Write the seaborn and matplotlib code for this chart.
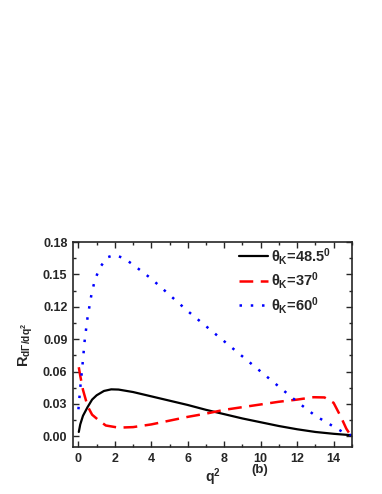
import matplotlib
matplotlib.use("Agg")
import matplotlib.pyplot as plt
import seaborn as sns
import pandas as pd
from matplotlib.ticker import MultipleLocator, FormatStrFormatter

sns.set_style("ticks")
plt.rcParams['font.family'] = ['Liberation Sans', 'DejaVu Sans']
plt.rcParams['font.weight'] = 'bold'
plt.rcParams['mathtext.fontset'] = 'custom'
plt.rcParams['mathtext.rm'] = 'Liberation Sans:bold'
plt.rcParams['mathtext.it'] = 'Liberation Sans:bold'
plt.rcParams['mathtext.bf'] = 'Liberation Sans:bold'

# theta_K = 48.5
q2_a = [0.02, 0.1, 0.25, 0.5, 0.75, 1.0, 1.4, 1.8, 2.2, 3.0, 4.0, 5.0, 6.0, 7.0,
        8.0, 9.0, 10.0, 11.0, 12.0, 13.0, 14.0, 14.6, 15.0]
r_a = [0.004, 0.011, 0.019, 0.027, 0.034, 0.038, 0.042, 0.0435, 0.0433, 0.041,
       0.037, 0.033, 0.029, 0.0245, 0.0205, 0.0165, 0.013, 0.0095, 0.0065, 0.004,
       0.0023, 0.0015, 0.001]

# theta_K = 37
q2_b = [0.02, 0.1, 0.25, 0.5, 0.75, 1.1, 1.5, 2.2, 3.0, 4.0, 5.0, 6.0, 7.0, 8.0,
        9.0, 10.0, 11.0, 12.0, 12.9, 13.5, 14.0, 14.4, 14.7, 14.95]
r_b = [0.064, 0.056, 0.043, 0.028, 0.020, 0.015, 0.010, 0.008, 0.0085, 0.011,
       0.0145, 0.018, 0.021, 0.0245, 0.027, 0.0295, 0.032, 0.034, 0.0362, 0.036,
       0.031, 0.018, 0.007, 0.0005]

# theta_K = 60
q2_c = [0.0, 0.1, 0.2, 0.35, 0.5, 0.7, 0.9, 1.2, 1.6, 2.0, 2.5, 3.0, 4.0, 5.0,
        6.0, 7.0, 8.0, 9.0, 10.0, 11.0, 12.0, 13.0, 14.0, 14.5, 14.95]
r_c = [0.025, 0.045, 0.062, 0.09, 0.11, 0.13, 0.145, 0.157, 0.166, 0.168, 0.165,
       0.159, 0.146, 0.131, 0.116, 0.102, 0.088, 0.074, 0.06, 0.046, 0.032,
       0.019, 0.009, 0.004, 0.001]

labels = [r'$\theta_{K}$=48.5$^{0}$', r'$\theta_{K}$=37$^{0}$', r'$\theta_{K}$=60$^{0}$']

fig = plt.figure(figsize=(3.82, 4.94), dpi=100)
ax = fig.add_axes([0.191, 0.095, 0.73, 0.415])

sns.lineplot(data=pd.DataFrame({'q2': q2_a, 'r': r_a}), x='q2', y='r', ax=ax,
             color='black', lw=1.6, label=labels[0])
sns.lineplot(data=pd.DataFrame({'q2': q2_b, 'r': r_b}), x='q2', y='r', ax=ax,
             color='red', lw=1.8, dashes=(5.5, 3), label=labels[1])
sns.lineplot(data=pd.DataFrame({'q2': q2_c, 'r': r_c}), x='q2', y='r', ax=ax,
             color='blue', lw=1.8, dashes=(1, 3.5), label=labels[2])

ax.set_xlim(-0.3, 15)
ax.set_ylim(-0.01, 0.18)
ax.xaxis.set_major_locator(MultipleLocator(2))
ax.xaxis.set_minor_locator(MultipleLocator(1))
ax.yaxis.set_major_locator(MultipleLocator(0.03))
ax.yaxis.set_minor_locator(MultipleLocator(0.015))
ax.yaxis.set_major_formatter(FormatStrFormatter('%.2f'))
ax.tick_params(which='both', direction='in', top=True, right=True, labelsize=9,
               width=1, pad=4)
ax.tick_params(which='major', length=4)
ax.tick_params(which='minor', length=2)
for s in ax.spines.values():
    s.set_linewidth(1.2)

ax.set_xlabel(r'q$^{2}$', fontsize=10, fontweight='bold', labelpad=1)
ax.set_ylabel(r'R$_{d\Gamma/dq^{2}}$', fontsize=10.5, fontweight='bold', labelpad=6)
ax.text(0.67, -0.085, '(b)', transform=ax.transAxes, fontsize=9.5,
        fontweight='bold', ha='center', va='top')

leg = ax.legend(loc='upper left', bbox_to_anchor=(0.59, 0.99), frameon=False,
                fontsize=10.5, handlelength=2.0, handletextpad=0.2,
                labelspacing=0.25, borderpad=0.1, borderaxespad=0)

fig.savefig('out.png', dpi=100)
